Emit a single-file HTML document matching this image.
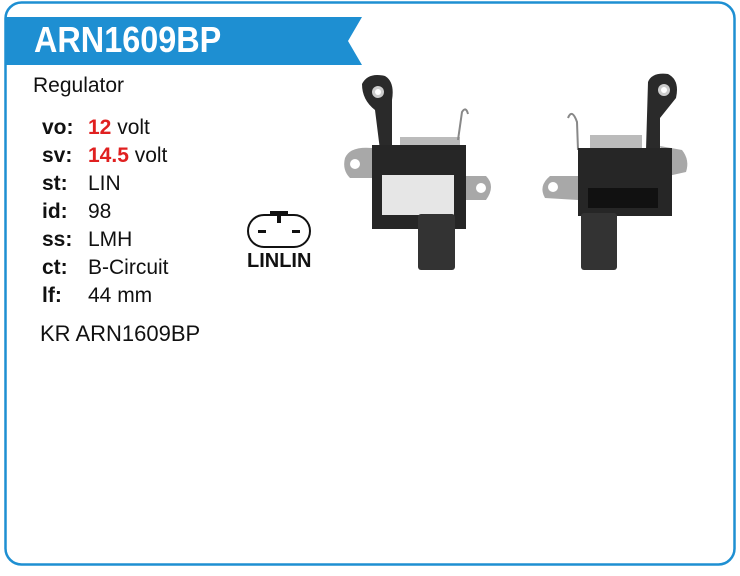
<!DOCTYPE html>
<html><head><meta charset="utf-8"><style>
body{margin:0;width:740px;height:576px;background:#fff;font-family:"Liberation Sans",Arial,sans-serif;position:relative;overflow:hidden}
.t{position:absolute;font-size:21px;color:#111;white-space:nowrap;line-height:24px}
.b{font-weight:bold}
.r{color:#e02020;font-weight:bold}
</style></head><body>
<svg width="740" height="576" style="position:absolute;left:0;top:0">
<rect x="5.5" y="2.5" width="729" height="562" rx="16" fill="none" stroke="#1e8fd2" stroke-width="2.5"/>
<polygon points="5,17 362,17 348,41 362,65 5,65" fill="#1e8fd2"/>
<rect x="248" y="215" width="62" height="32" rx="16" fill="none" stroke="#111" stroke-width="2"/>
<rect x="270" y="211" width="18" height="4" fill="#111"/><rect x="277" y="213" width="4" height="10" fill="#111"/>
<rect x="258" y="230" width="8" height="3" fill="#111"/><rect x="292" y="230" width="8" height="3" fill="#111"/>
<g>
<path d="M362,84 Q368,72 385,76 Q395,82 392,100 L392,150 L380,150 L375,110 Q362,100 362,84Z" fill="#2a2a2a"/>
<circle cx="378" cy="92" r="6" fill="#ccc"/><circle cx="378" cy="92" r="3" fill="#fff"/>
<path d="M345,158 Q350,146 372,148 L372,178 L350,178 Q342,170 345,158Z" fill="#a8a8a8"/>
<circle cx="355" cy="164" r="5" fill="#fff"/>
<path d="M466,176 L486,176 Q496,186 486,200 L466,200Z" fill="#a8a8a8"/>
<circle cx="481" cy="188" r="5" fill="#fff"/>
<rect x="400" y="137" width="60" height="12" fill="#bbb"/>
<path d="M458,140 L462,112 Q466,106 468,114" fill="none" stroke="#888" stroke-width="2"/>
<rect x="372" y="145" width="94" height="84" fill="#262626"/>
<rect x="382" y="175" width="72" height="40" fill="#e6e6e6"/>
<rect x="418" y="214" width="37" height="56" rx="3" fill="#333"/>
</g>
<g>
<path d="M648,82 Q652,72 668,74 Q680,80 676,98 L660,118 L660,150 L646,150Z" fill="#2a2a2a"/>
<circle cx="664" cy="90" r="6" fill="#ccc"/><circle cx="664" cy="90" r="3" fill="#fff"/>
<path d="M660,146 L682,150 Q690,160 686,172 L668,176Z" fill="#a8a8a8"/>
<path d="M578,176 L550,176 Q538,186 545,198 L578,200Z" fill="#a8a8a8"/>
<circle cx="553" cy="187" r="5" fill="#fff"/>
<rect x="590" y="135" width="52" height="15" fill="#bbb"/>
<path d="M578,150 L577,122 Q572,108 568,118" fill="none" stroke="#888" stroke-width="2"/>
<rect x="578" y="148" width="94" height="68" fill="#262626"/>
<rect x="588" y="188" width="70" height="20" fill="#111"/>
<rect x="581" y="213" width="36" height="57" rx="3" fill="#333"/>
</g>
</svg>
<div class="t b" style="left:34px;top:17px;font-size:36px;color:#fff;line-height:46px;transform:scaleX(0.9);transform-origin:0 0">ARN1609BP</div>
<div class="t" style="left:33px;top:74px">Regulator</div>
<div class="t b" style="left:42px;top:116px">vo:</div><div class="t" style="left:88px;top:116px"><span class="r">12</span> volt</div>
<div class="t b" style="left:42px;top:144px">sv:</div><div class="t" style="left:88px;top:144px"><span class="r">14.5</span> volt</div>
<div class="t b" style="left:42px;top:172px">st:</div><div class="t" style="left:88px;top:172px">LIN</div>
<div class="t b" style="left:42px;top:200px">id:</div><div class="t" style="left:88px;top:200px">98</div>
<div class="t b" style="left:42px;top:228px">ss:</div><div class="t" style="left:88px;top:228px">LMH</div>
<div class="t b" style="left:42px;top:256px">ct:</div><div class="t" style="left:88px;top:256px">B-Circuit</div>
<div class="t b" style="left:42px;top:284px">lf:</div><div class="t" style="left:88px;top:284px">44 mm</div>
<div class="t" style="left:40px;top:322px;font-size:22px">KR ARN1609BP</div>
<div class="t b" style="left:247px;top:249px;font-size:20px">LINLIN</div>
</body></html>
